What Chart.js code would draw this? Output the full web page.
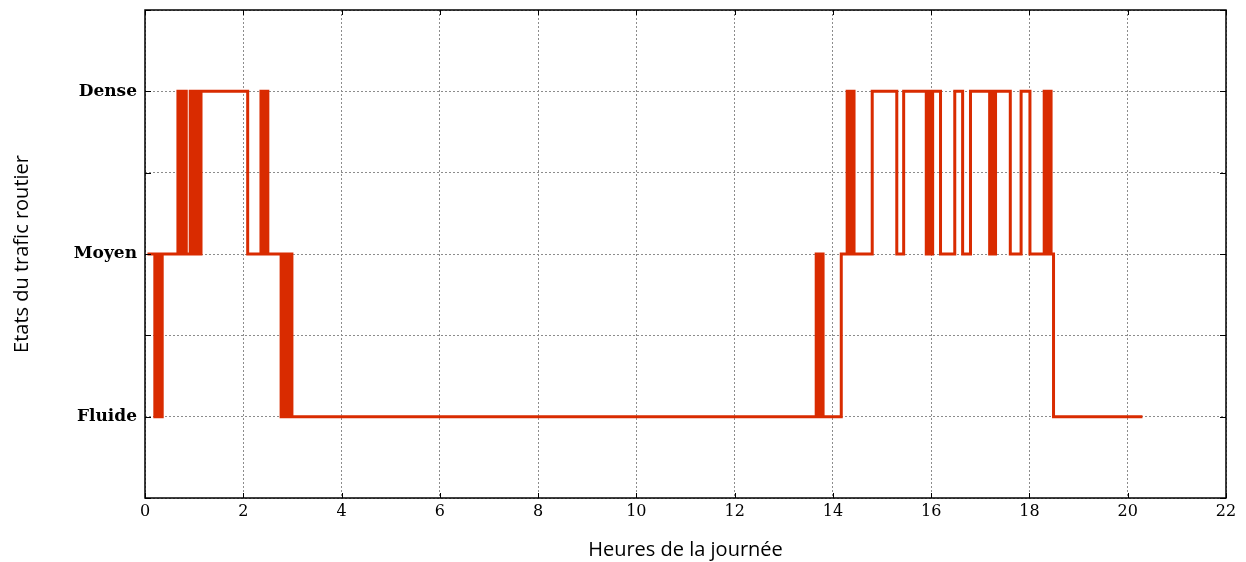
<!DOCTYPE html>
<html>
<head>
<meta charset="utf-8">
<script src="https://cdn.jsdelivr.net/npm/chart.js@4/dist/chart.umd.min.js"></script>
<style>
  html, body { margin: 0; padding: 0; background: #fff; }
  #wrap { width: 1246px; height: 562px; position: relative; }
</style>
</head>
<body>
<div id="wrap"><canvas id="trafic"></canvas></div>
<script>
// états : 1 = Fluide, 2 = Moyen, 3 = Dense
const etats = ['Fluide', 'Moyen', 'Dense'];

// instants de changement d'état (heures) et nouvel état
const heures = [
  0.05, 0.2, 0.24, 0.27, 0.31, 0.33, 0.35,
  0.67, 0.71, 0.74, 0.77, 0.8, 0.84,
  0.92, 0.96, 1.0, 1.04, 1.08, 1.11, 1.14,
  2.09,
  2.36, 2.41, 2.45, 2.5,
  2.77, 2.81, 2.85, 2.89, 2.93, 2.96, 2.99,
  13.66, 13.7, 13.74, 13.8,
  14.17,
  14.29, 14.33, 14.37, 14.43,
  14.8, 15.3, 15.44,
  15.9, 15.94, 15.98, 16.03,
  16.19, 16.48, 16.64, 16.8,
  17.19, 17.23, 17.27, 17.31,
  17.61, 17.83, 18.01,
  18.3, 18.34, 18.38, 18.44,
  18.49, 20.3
];
const niveaux = [
  2, 1, 2, 1, 2, 1, 2,
  3, 2, 3, 2, 3, 2,
  3, 2, 3, 2, 3, 2, 3,
  2,
  3, 2, 3, 2,
  1, 2, 1, 2, 1, 2, 1,
  2, 1, 2, 1,
  2,
  3, 2, 3, 2,
  3, 2, 3,
  2, 3, 2, 3,
  2, 3, 2, 3,
  2, 3, 2, 3,
  2, 3, 2,
  3, 2, 3, 2,
  1, 1
];

const xTicks = [0, 2, 4, 6, 8, 10, 12, 14, 16, 18, 20, 22];
const yTicks = [0.5, 1, 1.5, 2, 2.5, 3, 3.5];

const points = heures.map((h, i) => ({ x: h, y: niveaux[i] }));

// cadre noir et petits traits intérieurs
const cadre = {
  id: 'cadre',
  afterDraw(chart) {
    const { ctx, chartArea: a, scales } = chart;
    ctx.save();
    ctx.strokeStyle = '#000';
    ctx.lineWidth = 1.5;
    ctx.strokeRect(a.left, a.top, a.right - a.left, a.bottom - a.top);
    ctx.lineWidth = 1;
    ctx.beginPath();
    yTicks.forEach(v => {
      const y = Math.round(scales.y.getPixelForValue(v)) + 0.5;
      ctx.moveTo(a.left, y); ctx.lineTo(a.left + 6, y);
      ctx.moveTo(a.right, y); ctx.lineTo(a.right - 6, y);
    });
    xTicks.forEach(v => {
      const x = Math.round(scales.x.getPixelForValue(v)) + 0.5;
      ctx.moveTo(x, a.bottom); ctx.lineTo(x, a.bottom - 5);
      ctx.moveTo(x, a.top); ctx.lineTo(x, a.top + 5);
    });
    ctx.stroke();
    ctx.restore();
  }
};

new Chart(document.getElementById('trafic'), {
  type: 'line',
  data: {
    datasets: [{
      data: points,
      stepped: true,
      borderColor: '#d92b00',
      borderWidth: 3,
      pointRadius: 0,
      fill: false
    }]
  },
  options: {
    responsive: true,
    maintainAspectRatio: false,
    animation: false,
    layout: { padding: { top: 10, right: 20, left: 0, bottom: 0 } },
    plugins: { legend: { display: false }, tooltip: { enabled: false } },
    scales: {
      x: {
        type: 'linear',
        min: 0,
        max: 22,
        afterBuildTicks: s => { s.ticks = xTicks.map(v => ({ value: v })); },
        afterFit: s => { s.height = 64; },
        grid: { color: '#8c8c8c', lineWidth: 1, drawTicks: false },
        border: { display: false, dash: [2, 2] },
        ticks: {
          padding: 4,
          color: '#000',
          font: { family: 'DejaVu Serif', size: 16 },
          maxRotation: 0
        },
        title: {
          display: true,
          text: 'Heures de la journée',
          color: '#000',
          font: { family: 'Open Sans', size: 20 },
          padding: { top: 8, bottom: 0 }
        }
      },
      y: {
        type: 'linear',
        min: 0.5,
        max: 3.5,
        afterBuildTicks: s => { s.ticks = yTicks.map(v => ({ value: v })); },
        afterFit: s => { s.width = 145; s.paddingTop = 0; s.paddingBottom = 0; },
        grid: { color: '#8c8c8c', lineWidth: 1, drawTicks: false },
        border: { display: false, dash: [2, 2] },
        ticks: {
          padding: 8,
          color: '#000',
          font: { family: 'DejaVu Serif', size: 17, weight: 'bold' },
          callback: v => Number.isInteger(v) ? etats[v - 1] : ''
        },
        title: {
          display: true,
          text: 'Etats du trafic routier',
          color: '#000',
          font: { family: 'Open Sans', size: 20 },
          padding: { top: 10, bottom: 0 }
        }
      }
    }
  },
  plugins: [cadre]
});
</script>
</body>
</html>
